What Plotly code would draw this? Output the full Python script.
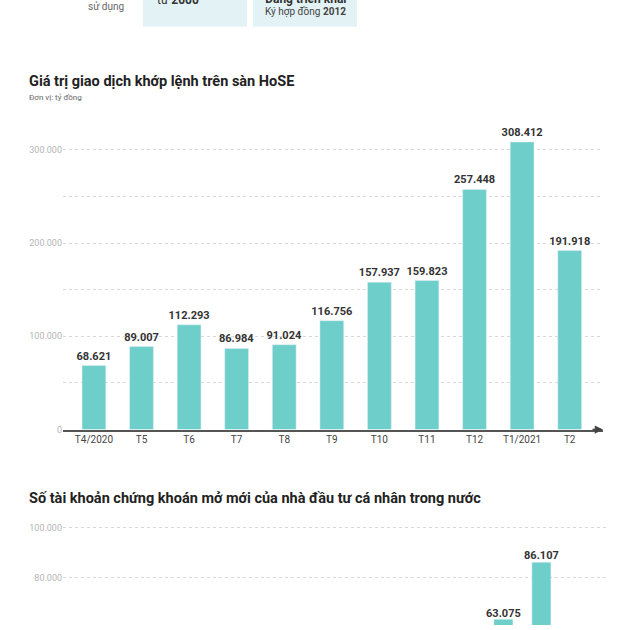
import plotly.graph_objects as go

# ---- data ----
months_top = ["T4/2020", "T5", "T6", "T7", "T8", "T9", "T10", "T11", "T12", "T1/2021", "T2"]
value_top = [68621, 89007, 112293, 86984, 91024, 116756, 157937, 159823, 257448, 308412, 191918]

months_bottom = ["T1/2020", "T2", "T3", "T4", "T5", "T6", "T7", "T8", "T9", "T10", "T11", "T12", "T1/2021", "T2/2021"]
# only the last three bars are visible in the reference (others lie below the cut)
value_bottom = [None, None, None, None, None, None, None, None, None, None, None, 63075, 86107, 57018]

title_top = "Giá trị giao dịch khớp lệnh trên sàn HoSE"
unit_top = "Đơn vị: tỷ đồng"
title_bottom = "Số tài khoản chứng khoán mở mới của nhà đầu tư cá nhân trong nước"

BAR = "#6ecfca"
W = H = 630

def py(px):
    return 1 - px / H

def pxx(px):
    return px / W

lab_font = dict(family="Roboto", size=11, color="#333333")

fig = go.Figure()

fig.add_trace(go.Bar(
    x=months_top, y=value_top, marker_color=BAR, width=0.5,
    texttemplate="<b>%{y:,}</b>", textposition="outside", cliponaxis=False, constraintext="none",
    textfont=lab_font, xaxis="x", yaxis="y", hoverinfo="skip",
))
fig.add_trace(go.Bar(
    x=months_bottom, y=value_bottom, marker_color=BAR, width=0.5,
    xaxis="x2", yaxis="y2", hoverinfo="skip",
))
# value labels of the lower chart (a text layer so labels of cut bars still show)
fig.add_trace(go.Scatter(
    x=months_bottom, y=value_bottom, mode="text", texttemplate="<b>%{y:,}</b>",
    textposition="top center", textfont=lab_font, cliponaxis=False,
    xaxis="x2", yaxis="y2", hoverinfo="skip",
))

grid = dict(showgrid=True, gridcolor="#d9d9d9", griddash="3px,3px", gridwidth=1)

fig.update_layout(
    width=W, height=H, margin=dict(l=0, r=0, t=0, b=0),
    paper_bgcolor="white", plot_bgcolor="white", showlegend=False,
    separators=",.",
    xaxis=dict(domain=[pxx(63), pxx(603)], range=[-0.65, 10.7], type="category",
               showline=True, linecolor="#555555", linewidth=1.5, showgrid=False,
               ticks="", tickfont=dict(family="Roboto", size=10, color="#444444"),
               anchor="y", fixedrange=True),
    yaxis=dict(domain=[py(433), py(120)], range=[0, 332979], tickvals=[0, 100000, 200000, 300000],
               tickformat=",", tickfont=dict(family="Roboto", size=9, color="#b5b5b5"),
               zeroline=False, anchor="x",
               minor=dict(dtick=50000, showgrid=True, gridcolor="#d9d9d9", griddash="3px,3px", ticks=""),
               **grid),
    xaxis2=dict(domain=[pxx(63), pxx(606)], range=[-0.59, 13.7], type="category",
                showline=False, showgrid=False, showticklabels=False, ticks="",
                anchor="y2"),
    yaxis2=dict(domain=[0, py(520)], range=[60800, 104800], tickvals=[60000, 80000, 100000],
                tickformat=",", tickfont=dict(family="Roboto", size=9, color="#b5b5b5"),
                zeroline=False, anchor="x2", **grid),
)

# axis arrow
fig.add_annotation(x=1, xref="x domain", y=0, yref="y", ax=-12, ay=0, text="",
                   showarrow=True, arrowhead=2, arrowsize=1.1, arrowwidth=1.5, arrowcolor="#444444")

# titles
fig.add_annotation(x=pxx(27), y=py(82), xref="paper", yref="paper", xanchor="left", yanchor="middle",
                   text="<b>" + title_top + "</b>", showarrow=False,
                   font=dict(family="Roboto", size=14.5, color="#222222"))
fig.add_annotation(x=pxx(27), y=py(98), xref="paper", yref="paper", xanchor="left", yanchor="middle",
                   text=unit_top, showarrow=False,
                   font=dict(family="Roboto", size=8, color="#666666"))
fig.add_annotation(x=pxx(27), y=py(502), xref="paper", yref="paper", xanchor="left", yanchor="middle",
                   text="<b>" + title_bottom + "</b>", showarrow=False,
                   font=dict(family="Roboto", size=14.5, color="#222222"))

# header fragment (boxes cut at the top)
for x0, x1 in [(143, 247), (253, 357)]:
    fig.add_shape(type="rect", xref="paper", yref="paper", x0=pxx(x0), x1=pxx(x1), y0=py(27), y1=py(-10),
                  fillcolor="#e3f3f5", line_width=0, layer="below")
fig.add_annotation(x=pxx(86), y=py(7), xref="paper", yref="paper", xanchor="left", yanchor="middle",
                   text="sử dụng", showarrow=False, font=dict(family="Roboto", size=10, color="#666666"))
fig.add_annotation(x=pxx(155), y=py(0), xref="paper", yref="paper", xanchor="left", yanchor="middle",
                   text="từ <b>2000</b>", showarrow=False, font=dict(family="Roboto", size=12, color="#333333"))
fig.add_annotation(x=pxx(263), y=py(-1), xref="paper", yref="paper", xanchor="left", yanchor="middle",
                   text="<b>Đang triển khai</b>", showarrow=False, font=dict(family="Roboto", size=12, color="#333333"))
fig.add_annotation(x=pxx(263), y=py(12), xref="paper", yref="paper", xanchor="left", yanchor="middle",
                   text="Ký hợp đồng <b>2012</b>", showarrow=False, font=dict(family="Roboto", size=10, color="#444444"))

fig.write_html("out.html", config={"displayModeBar": False},
               post_script="document.body.style.margin='0';document.body.style.overflow='hidden';")
